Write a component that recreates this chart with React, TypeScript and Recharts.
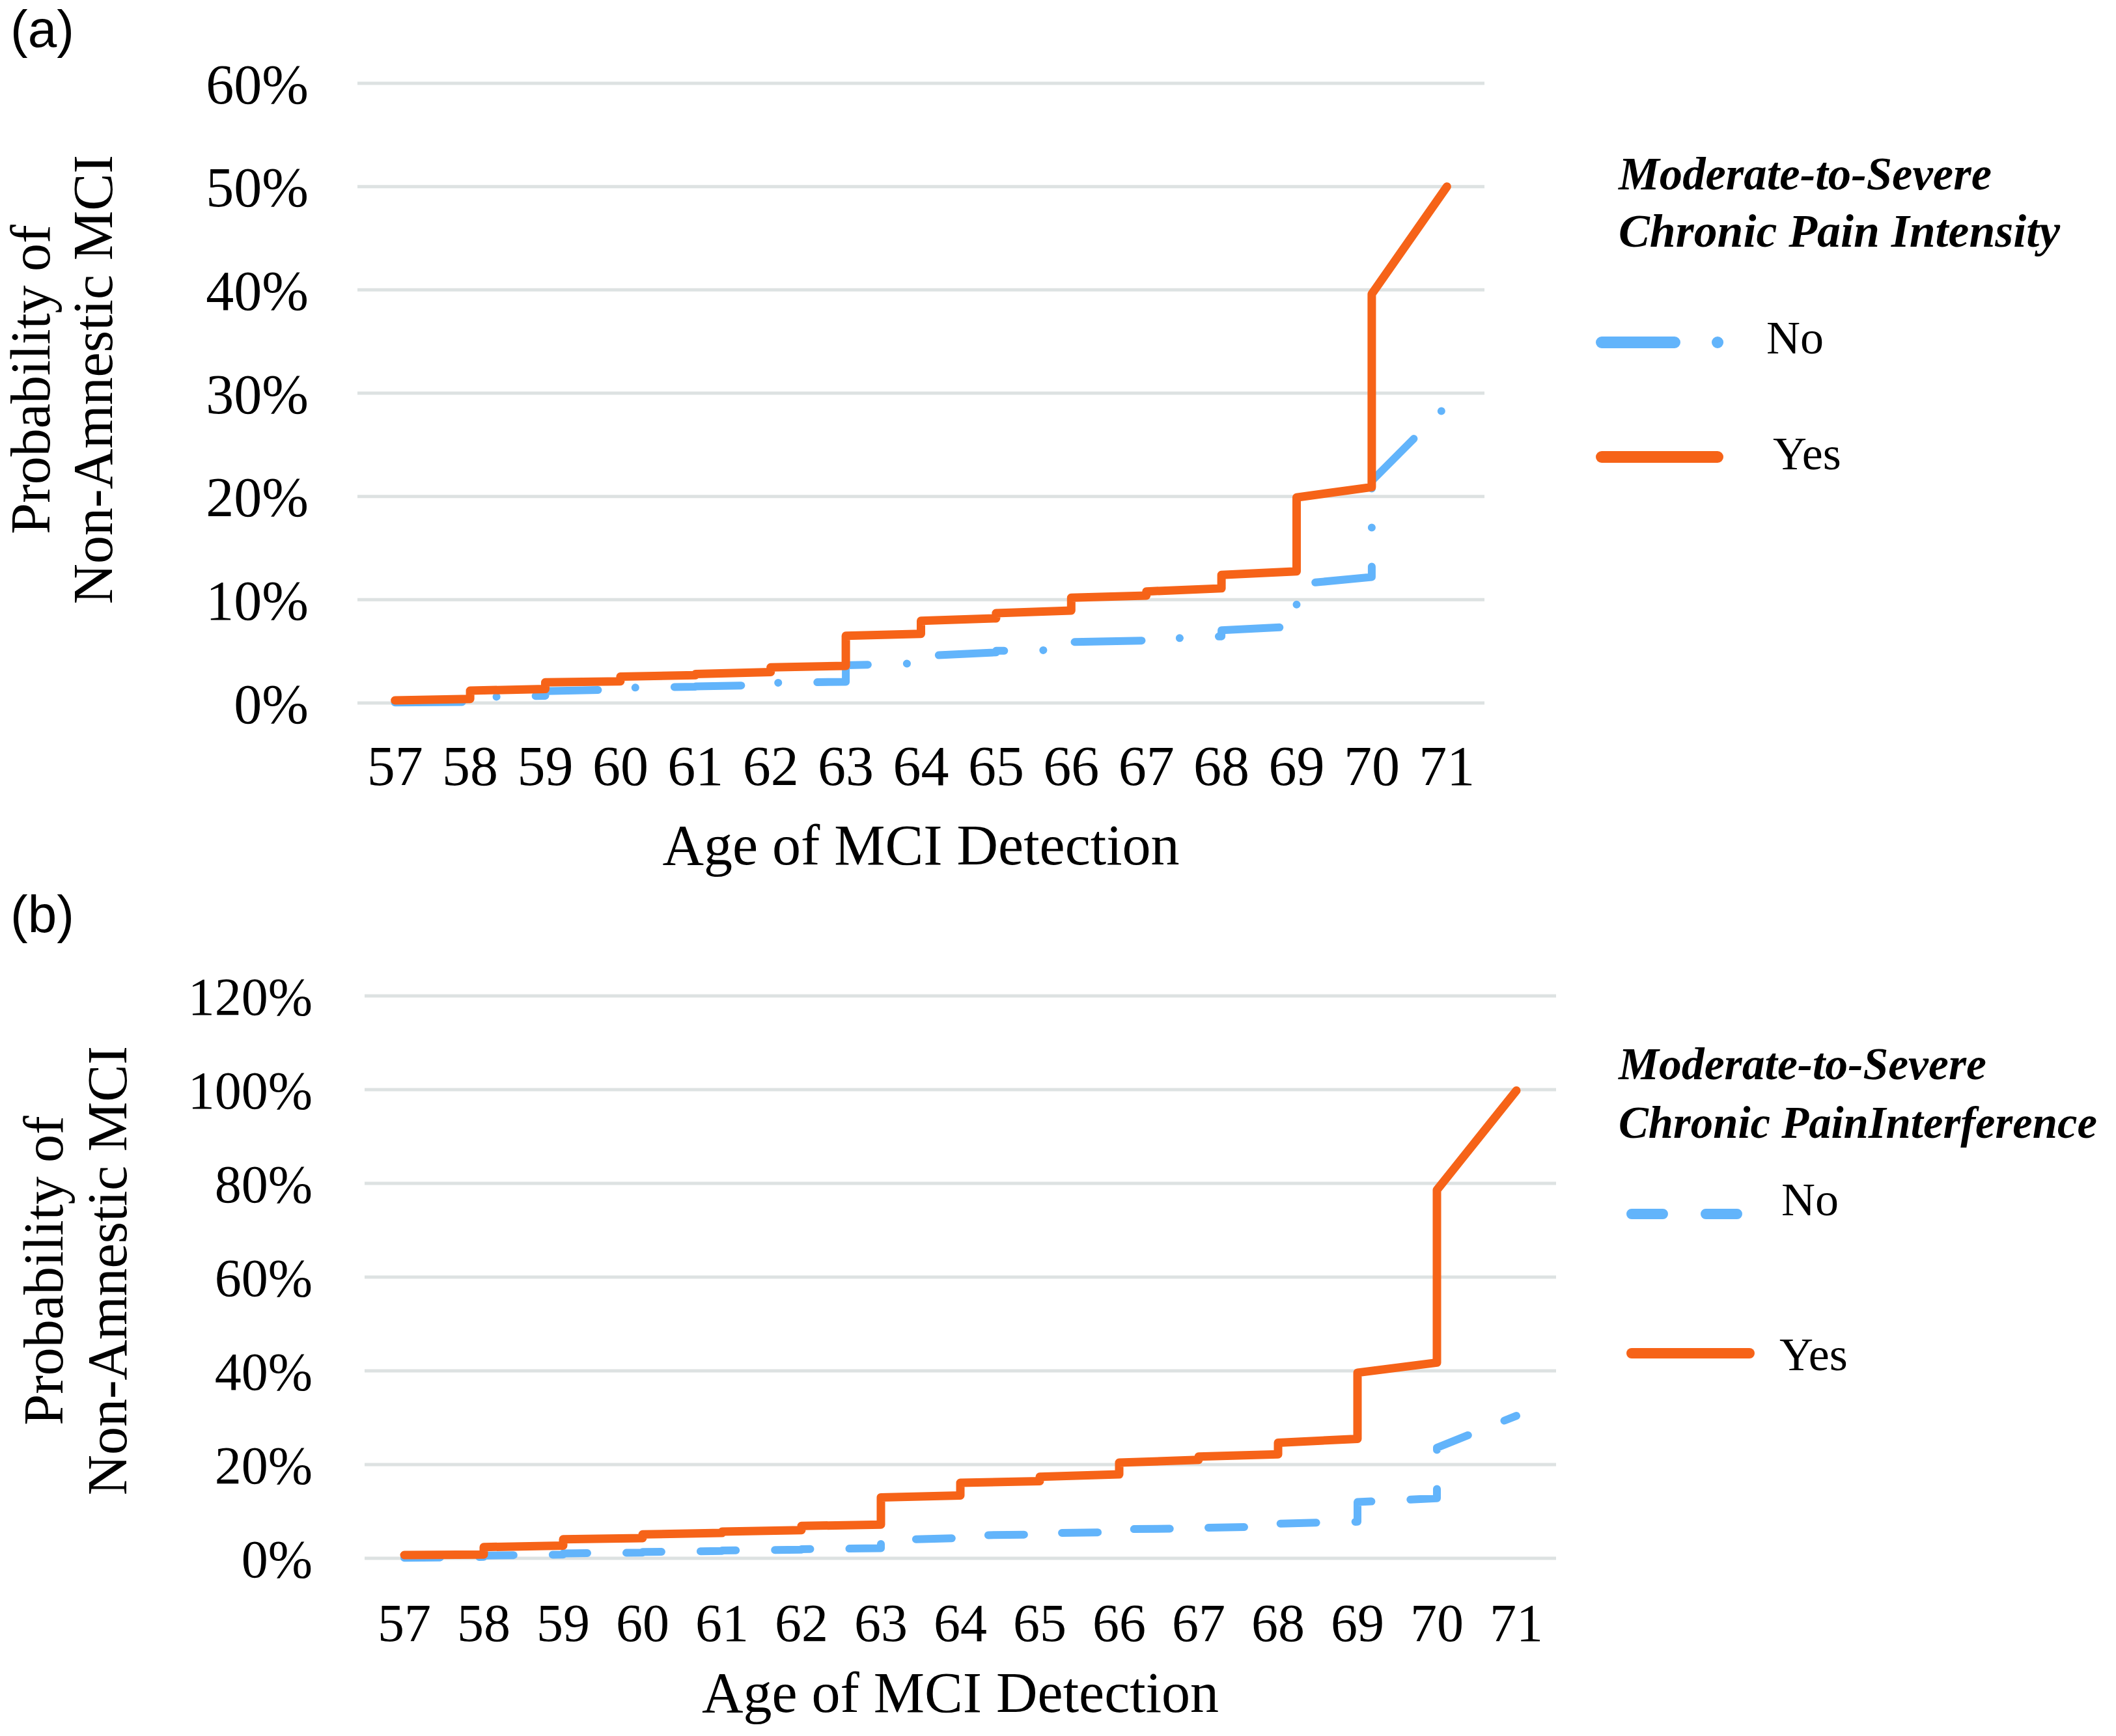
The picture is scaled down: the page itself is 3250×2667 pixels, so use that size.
import React from "react"
import { CartesianGrid, Legend, Line, LineChart, XAxis, YAxis } from "recharts"

// ages on the x axis; each age has the value just before the step and just after it
const ages = [57, 58, 59, 60, 61, 62, 63, 64, 65, 66, 67, 68, 69, 70, 71]

// (a) chronic pain intensity, in %
const intensityNoBefore = [null, 0.1, 0.7, 1.3, 1.57, 1.75, 2.05, 3.85, 4.9, 5.15, 6.05, 6.45, 7.4, 12.2, 28.8]
const intensityNoAfter = [0.05, 0.55, 1.15, 1.47, 1.6, 1.95, 3.65, 4.55, 5.05, 5.9, 6.15, 7.05, 11.5, 21.5, null]
const intensityYesBefore = [null, 0.4, 1.35, 2.1, 2.7, 3.0, 3.6, 6.7, 8.2, 8.95, 10.4, 11.1, 12.75, 20.9, 50]
const intensityYesAfter = [0.25, 1.2, 2.0, 2.55, 2.8, 3.45, 6.5, 7.95, 8.7, 10.2, 10.8, 12.4, 19.9, 39.6, null]

// (b) chronic pain interference, in %
const interferenceNoBefore = [null, 0.3, 0.8, 1.2, 1.55, 1.85, 2.15, 4.3, 5.1, 5.6, 6.4, 6.8, 7.8, 12.8, 30.4]
const interferenceNoAfter = [0.1, 0.6, 1.05, 1.35, 1.65, 1.95, 3.9, 4.85, 5.35, 6.2, 6.5, 7.4, 12.0, 23.6, null]
const interferenceYesBefore = [null, 0.8, 2.7, 4.3, 5.4, 6.0, 7.2, 13.4, 16.45, 17.9, 21.0, 22.2, 25.5, 41.75, 99.8]
const interferenceYesAfter = [0.7, 2.4, 4.05, 5.1, 5.7, 6.9, 13.0, 16.1, 17.4, 20.4, 21.7, 24.65, 39.6, 78.6, null]

const ticksA = [0, 10, 20, 30, 40, 50, 60]
const ticksB = [0, 20, 40, 60, 80, 100, 120]

const seriesNames = ["No", "Yes"]
const titleA = ["Moderate-to-Severe", "Chronic Pain Intensity"]
const titleB = ["Moderate-to-Severe", "Chronic PainInterference"]
const yTitle = ["Probability of", "Non-Amnestic MCI"]
const xTitle = "Age of MCI Detection"

const BLUE = "#62B4FB"
const ORANGE = "#F66318"
const GRID = "#DDE2E2"
const SERIF = "'Liberation Serif', 'Times New Roman', serif"

type Pt = { age: number; v: number }

function steps(before: (number | null)[], after: (number | null)[]): Pt[] {
  const out: Pt[] = []
  ages.forEach((age, i) => {
    if (before[i] != null) out.push({ age, v: before[i] as number })
    if (after[i] != null) out.push({ age, v: after[i] as number })
  })
  return out
}

function YTitle({ x1, x2, cy, size }: { x1: number; x2: number; cy: number; size: number }) {
  return (
    <g fontFamily={SERIF} fontSize={size} fill="#000" textAnchor="middle">
      <text x={x1} y={cy} transform={`rotate(-90 ${x1} ${cy})`}>{yTitle[0]}</text>
      <text x={x2} y={cy} transform={`rotate(-90 ${x2} ${cy})`}>{yTitle[1]}</text>
    </g>
  )
}

type LegendCfg = {
  title: string[]
  titleY: number[]
  titleW: number[]
  titleSize: number
  noY: number
  noTextX: number
  noTextY: number
  noDash: string
  yesY: number
  yesTextX: number
  yesTextY: number
  x1: number
  x2: number
  x2yes: number
  w: number
}

function makeLegend(cfg: LegendCfg) {
  return () => (
    <svg width={840} height={620} style={{ overflow: "visible" }}>
      <g fontFamily={SERIF} fontSize={cfg.titleSize} fontWeight="bold" fontStyle="italic">
        <text x={86} y={cfg.titleY[0]} textLength={cfg.titleW[0]} lengthAdjust="spacingAndGlyphs">{cfg.title[0]}</text>
        <text x={86} y={cfg.titleY[1]} textLength={cfg.titleW[1]} lengthAdjust="spacingAndGlyphs">{cfg.title[1]}</text>
      </g>
      <line x1={cfg.x1} x2={cfg.x2} y1={cfg.noY} y2={cfg.noY} stroke={BLUE}
        strokeWidth={cfg.w} strokeLinecap="round" strokeDasharray={cfg.noDash} />
      <line x1={cfg.x1} x2={cfg.x2yes} y1={cfg.yesY} y2={cfg.yesY} stroke={ORANGE}
        strokeWidth={cfg.w} strokeLinecap="round" />
      <g fontFamily={SERIF} fontSize={72}>
        <text x={cfg.noTextX} y={cfg.noTextY}>{seriesNames[0]}</text>
        <text x={cfg.yesTextX} y={cfg.yesTextY}>{seriesNames[1]}</text>
      </g>
    </svg>
  )
}

function Panel(props: {
  top: number; height: number; right: number; marginTop: number; marginBottom: number
  yWidth: number; xHeight: number; yMax: number; yTicks: number[]
  noData: Pt[]; yesData: Pt[]; noDash: string
  tickSize: number; yTickMargin: number; xTickMargin: number; xTitleOffset: number
  yTitleX: number[]; yTitleCy: number
  legend: LegendCfg; legendTop: number
}) {
  const p = props
  return (
    <div style={{ position: "absolute", left: 0, top: p.top }}>
      <LineChart width={3250} height={p.height}
        margin={{ top: p.marginTop, right: p.right, bottom: p.marginBottom, left: 0 }}>
        <CartesianGrid horizontal vertical={false} stroke={GRID} strokeWidth={5} />
        <XAxis type="number" dataKey="age" domain={[56.5, 71.5]} ticks={ages} interval={0}
          height={p.xHeight} axisLine={false} tickLine={false} tickSize={0} tickMargin={p.xTickMargin}
          tick={{ fill: "#000", fontSize: p.tickSize, fontFamily: SERIF }}
          label={{ value: xTitle, position: "insideBottom", offset: p.xTitleOffset, fill: "#000", fontSize: 88, fontFamily: SERIF }} />
        <YAxis type="number" domain={[0, p.yMax]} ticks={p.yTicks} interval={0} width={p.yWidth}
          axisLine={false} tickLine={false} tickSize={0} tickMargin={p.yTickMargin}
          tick={{ fill: "#000", fontSize: p.tickSize, fontFamily: SERIF }}
          tickFormatter={(v) => `${v}%`}
          label={{ content: () => <YTitle x1={p.yTitleX[0]} x2={p.yTitleX[1]} cy={p.yTitleCy} size={86} /> }} />
        <Legend layout="vertical" align="center" verticalAlign="middle"
          wrapperStyle={{ left: 2400, top: p.legendTop, width: 840, height: 620 }}
          content={makeLegend(p.legend)} />
        <Line data={p.noData} dataKey="v" name={seriesNames[0]} type="linear" stroke={BLUE}
          strokeWidth={12} strokeDasharray={p.noDash} strokeLinecap="round" strokeLinejoin="round"
          dot={false} activeDot={false} isAnimationActive={false} />
        <Line data={p.yesData} dataKey="v" name={seriesNames[1]} type="linear" stroke={ORANGE}
          strokeWidth={13} strokeLinecap="round" strokeLinejoin="round"
          dot={false} activeDot={false} isAnimationActive={false} />
      </LineChart>
    </div>
  )
}

export default function App() {
  return (
    <div style={{ position: "absolute", left: 0, top: 0, width: 3250, height: 2667, background: "#fff", overflow: "hidden" }}>
      <svg width={3250} height={2667} style={{ position: "absolute", left: 0, top: 0 }}>
        <g fontFamily="'Liberation Sans', Arial, sans-serif" fontSize={80} fill="#000">
          <text x={16} y={72}>(a)</text>
          <text x={16} y={1432}>(b)</text>
        </g>
      </svg>
      <Panel top={0} height={1400} right={970} marginTop={128} marginBottom={40}
        yWidth={549} xHeight={280} yMax={60} yTicks={ticksA}
        noData={steps(intensityNoBefore, intensityNoAfter)}
        yesData={steps(intensityYesBefore, intensityYesAfter)}
        noDash="103 60 0.1 60"
        tickSize={86} yTickMargin={75} xTickMargin={65} xTitleOffset={32}
        yTitleX={[76, 172]} yTitleCy={583}
        legendTop={200}
        legend={{
          title: titleA, titleY: [91, 179], titleW: [573, 678], titleSize: 72,
          noY: 326, noTextX: 313, noTextY: 343, noDash: "112 66 0.1 100",
          yesY: 502, yesTextX: 323, yesTextY: 521,
          x1: 60, x2: 240, x2yes: 238, w: 18,
        }} />
      <Panel top={1400} height={1267} right={860} marginTop={130} marginBottom={0}
        yWidth={560} xHeight={273} yMax={120} yTicks={ticksB}
        noData={steps(interferenceNoBefore, interferenceNoAfter)}
        yesData={steps(interferenceYesBefore, interferenceYesAfter)}
        noDash="55 60"
        tickSize={82} yTickMargin={80} xTickMargin={69} xTitleOffset={37}
        yTitleX={[96, 194]} yTitleCy={552}
        legendTop={160}
        legend={{
          title: titleB, titleY: [98, 188], titleW: [565, 735], titleSize: 69,
          noY: 305, noTextX: 336, noTextY: 307, noDash: "48 66",
          yesY: 519, yesTextX: 333, yesTextY: 545,
          x1: 106, x2: 268, x2yes: 287, w: 16,
        }} />
    </div>
  )
}
